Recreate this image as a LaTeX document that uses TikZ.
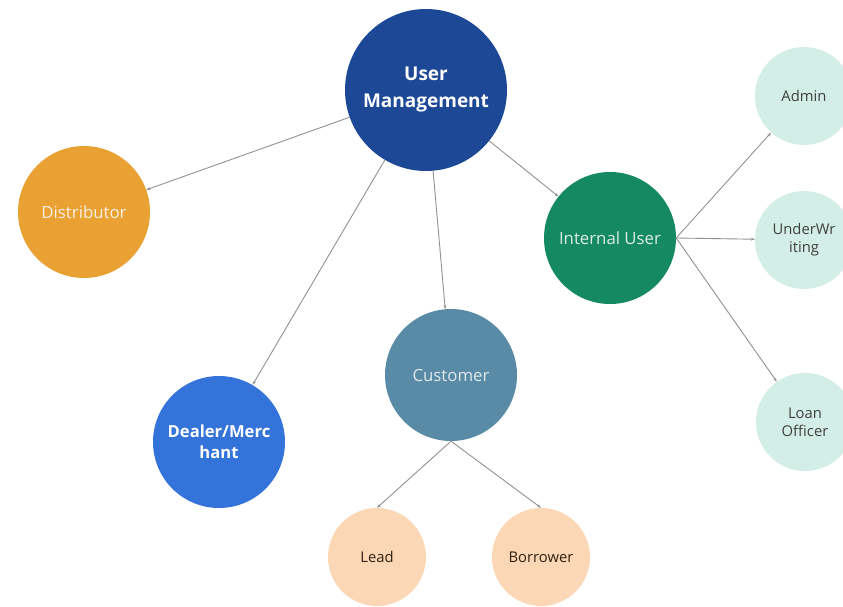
\documentclass[tikz,border=0pt]{standalone}
\usepackage{fontspec}
\setmainfont{Open Sans}
\usetikzlibrary{arrows.meta, positioning}
\definecolor{umBlue}{RGB}{28, 72, 150}
\definecolor{distOrange}{RGB}{233, 161, 52}
\definecolor{internalGreen}{RGB}{21, 137, 98}
\definecolor{custTeal}{RGB}{90, 139, 166}
\definecolor{dealerBlue}{RGB}{52, 116, 218}
\definecolor{mintLight}{RGB}{210, 238, 230}
\definecolor{peachLight}{RGB}{251, 215, 182}
\definecolor{edgeGrey}{RGB}{145, 145, 145}

\begin{document}
\begin{tikzpicture}[
    x=1pt, y=-1pt,
    % --- 스타일 정의 ---
    % 1. 노드 스타일
    bignode/.style={circle, minimum size=132pt, inner sep=0pt, align=center, font=\fontsize{16.8}{21}\selectfont},
    rootnode/.style={circle, fill=umBlue, text=white, minimum size=162pt, inner sep=0pt, align=center, font=\fontsize{19}{27}\selectfont\bfseries},
    leafnode/.style={circle, minimum size=98pt, inner sep=0pt, align=center, font=\fontsize{14.8}{18}\selectfont},
    % 2. 화살표 스타일
    linkarrow/.style={-{Stealth[length=4pt, width=3pt]}, edgeGrey, line width=0.9pt}
]
\useasboundingbox (0,0) rectangle (843,607);

% === 1단계: 노드 배치 ===
\node[rootnode] (um) at (426, 90) {User\\Management};

\node[bignode, fill=distOrange, text=white!85!distOrange] (dist) at (84, 212) {Distributor};
\node[bignode, fill=internalGreen, text=white!85!internalGreen] (internal) at (610, 238) {Internal User};
\node[bignode, fill=custTeal, text=white!80!custTeal] (cust) at (451, 375) {Customer};
\node[bignode, fill=dealerBlue, text=white, font=\fontsize{16.6}{21}\selectfont\bfseries] (dealer) at (219, 442) {Dealer/Merc\\hant};

% 오른쪽 작은 노드들
\node[leafnode, fill=mintLight, text=black!75] (admin) at (804, 96) {Admin};
\node[leafnode, fill=mintLight, text=black!75] (under) at (804, 240) {UnderWr\\iting};
\node[leafnode, fill=mintLight, text=black!75] (loan) at (805, 422) {Loan\\Officer};

% 아래쪽 작은 노드들
\node[leafnode, fill=peachLight, text=black!75!brown] (lead) at (377, 557) {Lead};
\node[leafnode, fill=peachLight, text=black!75!brown] (borrower) at (541, 557) {Borrower};

% === 2단계: 화살표 그리기 ===
\draw[linkarrow] (um) -- (dist);
\draw[linkarrow] (um) -- (dealer);
\draw[linkarrow] (um) -- (cust);
\draw[linkarrow] (um) -- (internal);

% Internal User 오른쪽 한 점에서 출발
\draw[linkarrow] (internal.east) -- (admin);
\draw[linkarrow] (internal.east) -- (under);
\draw[linkarrow] (internal.east) -- (loan);

% Customer 아래에서 출발
\draw[linkarrow] (cust.south) -- (lead.north);
\draw[linkarrow] (cust.south) -- (borrower.north);

\end{tikzpicture}
\end{document}
